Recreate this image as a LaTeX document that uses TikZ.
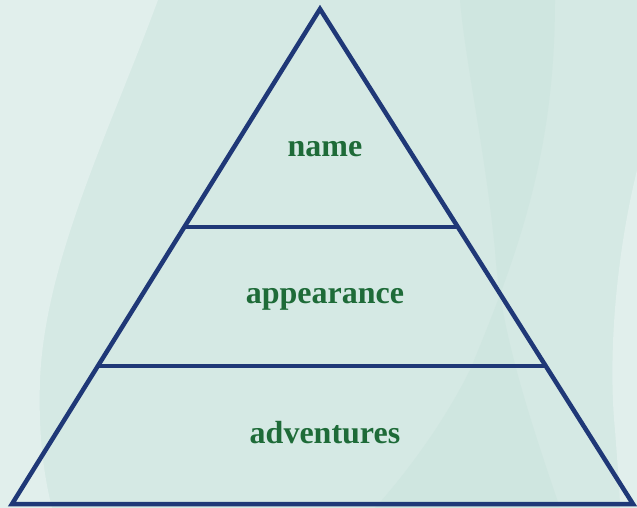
\documentclass[tikz,border=0pt]{standalone}
\usepackage{fontspec}
\usetikzlibrary{calc}
\setmainfont{Liberation Serif}
\definecolor{bgmain}{HTML}{D5E9E4}
\definecolor{bglight}{HTML}{E1EFEC}
\definecolor{bgdark}{HTML}{CFE6E0}
\definecolor{navy}{HTML}{1F3877}
\definecolor{leafgreen}{HTML}{1E6B38}
\tikzset{
  pyrline/.style={draw=navy, line width=4.5pt, line join=miter, line cap=butt},
  tierlabel/.style={text=leafgreen, font=\fontsize{32}{32}\selectfont\bfseries, inner sep=0pt, anchor=base}
}
\begin{document}
\begin{tikzpicture}[x=1pt,y=-1pt]
\useasboundingbox (0,0) rectangle (637,508);
% background
\fill[bgmain] (0,0) rectangle (637,508);
\fill[bglight] (0,0) -- (158,0) .. controls (110,130) and (45,260) .. (40,380) .. controls (38,440) and (45,480) .. (52,508) -- (0,508) -- cycle;
\fill[bgdark] (460,0) -- (555,0) .. controls (555,150) and (520,250) .. (470,370) .. controls (440,430) and (400,480) .. (375,508) -- (560,508) .. controls (530,420) and (500,330) .. (495,250) .. controls (485,150) and (465,60) .. (460,0) -- cycle;
\fill[bglight] (637,170) .. controls (615,260) and (608,360) .. (615,430) .. controls (618,470) and (620,495) .. (620,508) -- (637,508) -- cycle;
% pyramid
\coordinate (apex) at (320,9);
\coordinate (bl) at (12,504);
\coordinate (br) at (633,504);
\coordinate (l1) at ($(apex)!0.4404!(bl)$);
\coordinate (r1) at ($(apex)!0.4404!(br)$);
\coordinate (l2) at ($(apex)!0.7212!(bl)$);
\coordinate (r2) at ($(apex)!0.7212!(br)$);
\draw[pyrline] (apex) -- (br) -- (bl) -- cycle;
\draw[pyrline] (l1) -- (r1);
\draw[pyrline] (l2) -- (r2);
% labels
\node[tierlabel] (name) at (325,157) {name};
\node[tierlabel] (appearance) at (325,303) {appearance};
\node[tierlabel] (adventures) at (325,443) {adventures};
\end{tikzpicture}
\end{document}
